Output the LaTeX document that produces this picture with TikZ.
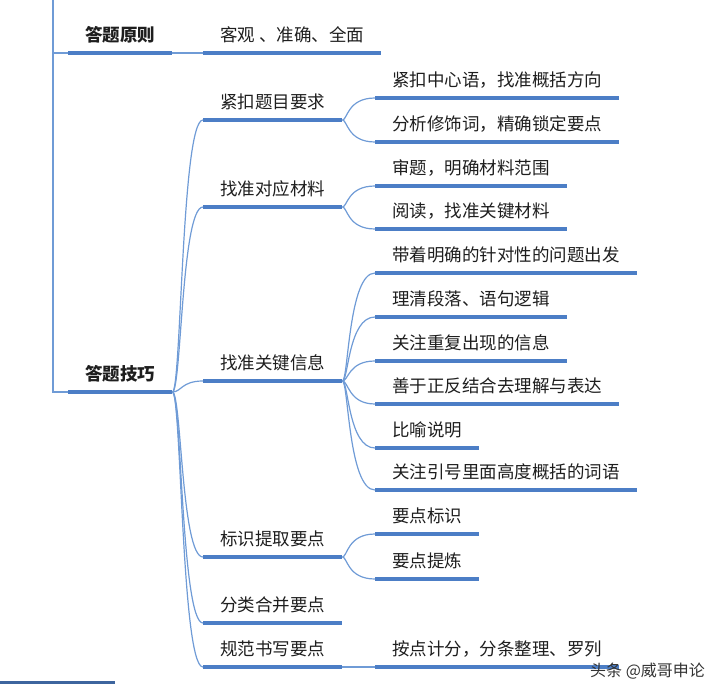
\documentclass[tikz,border=0pt]{standalone}
\usepackage{fontspec}
\newfontfamily\cjk{Noto Sans CJK SC}
\usepackage{xcolor}
\usepackage{tikz}
\usetikzlibrary{calc}
\definecolor{barblue}{HTML}{4C7EC6}
\definecolor{twigblue}{HTML}{6F9BD6}
\definecolor{inkgray}{HTML}{1E1E1E}
\tikzset{
  sub/.style={anchor=south west,font=\cjk\fontsize{17.5}{20}\selectfont,text=inkgray,
    inner xsep=17pt,inner ysep=8pt,text height=14pt,text depth=3.5pt},
  topic/.style={sub,font=\cjk\bfseries\fontsize{17.5}{20}\selectfont},
  bar/.style={barblue,line width=3.6pt},
  twig/.style={twigblue,line width=1.2pt}
}
% curved connector: parent end -> child start
\newcommand\branch[3]{\draw[twig] (#1.south east) .. controls ($(#1.south east)+(#3,0)$) and ($(#1.south east |- #2.south west)+(#3,0)$) .. (#2.south west);}

\begin{document}
\begin{tikzpicture}[x=1pt,y=-1pt]
  \useasboundingbox (0,0) rectangle (714,684);
  \coordinate (top) at (53,0);
  % first level
  \node[topic] (rule) at (68,53) {答题原则};
  \node[topic] (tech) at (68,392) {答题技巧};
  \node[sub] (fair) at (203,53) {客观 、准确、全面};
  % second level
  \node[sub] (s1) at (203,120) {紧扣题目要求};
  \node[sub] (s2) at (203,207) {找准对应材料};
  \node[sub] (s3) at (203,381) {找准关键信息};
  \node[sub] (s4) at (203,557) {标识提取要点};
  \node[sub] (s5) at (203,623) {分类合并要点};
  \node[sub] (s6) at (203,667) {规范书写要点};
  % third level
  \node[sub] (a1) at (375,98) {紧扣中心语，找准概括方向};
  \node[sub] (a2) at (375,142) {分析修饰词，精确锁定要点};
  \node[sub] (b1) at (375,186) {审题，明确材料范围};
  \node[sub] (b2) at (375,229) {阅读，找准关键材料};
  \node[sub] (c1) at (375,273) {带着明确的针对性的问题出发};
  \node[sub] (c2) at (375,317) {理清段落、语句逻辑};
  \node[sub] (c3) at (375,361) {关注重复出现的信息};
  \node[sub] (c4) at (375,404) {善于正反结合去理解与表达};
  \node[sub] (c5) at (375,448) {比喻说明};
  \node[sub] (c6) at (375,490) {关注引号里面高度概括的词语};
  \node[sub] (d1) at (375,534) {要点标识};
  \node[sub] (d2) at (375,579) {要点提炼};
  \node[sub] (e1) at (375,667) {按点计分，分条整理、罗列};

  % root trunk
  \draw[twig] (top) |- (rule.south west);
  \draw[twig] (top) |- (tech.south west);
  \draw[twig] (rule.south east) -- (fair.south west);
  \draw[twig] (s6.south east) -- (e1.south west);
  \foreach \c in {s1,s2,s3,s4,s5,s6} {\branch{tech}{\c}{9}}
  \foreach \c in {a1,a2} {\branch{s1}{\c}{5}}
  \foreach \c in {b1,b2} {\branch{s2}{\c}{5}}
  \foreach \c in {c1,c2,c3,c4,c5,c6} {\branch{s3}{\c}{6}}
  \foreach \c in {d1,d2} {\branch{s4}{\c}{5}}

  % underlines
  \foreach \n in {rule,tech,fair,s1,s2,s3,s4,s5,s6,a1,a2,b1,b2,c1,c2,c3,c4,c5,c6,d1,d2,e1}
    \draw[bar] (\n.south west) -- (\n.south east);

  % cut-off bar at the lower edge
  \coordinate (cutl) at (0,682);
  \coordinate (cutr) at (115,682);
  \draw[barblue!80!black,line width=3pt] (cutl) -- (cutr);

  % watermark
  \node[anchor=west,font=\cjk\fontsize{16}{18}\selectfont,text=black!80,inner sep=0pt] (mark) at (590,671) {头条 @威哥申论};
\end{tikzpicture}
\end{document}
